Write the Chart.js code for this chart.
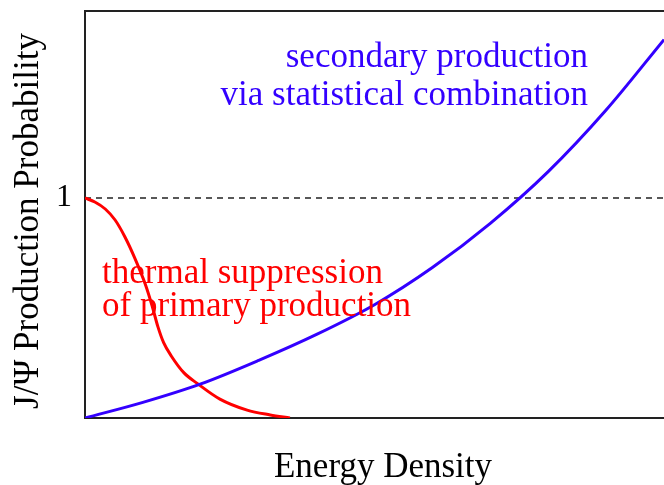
<!DOCTYPE html>
<html>
<head>
<meta charset="utf-8">
<script src="https://cdn.jsdelivr.net/npm/chart.js@4/dist/chart.umd.min.js"></script>
<style>
  html, body { margin: 0; padding: 0; background: #fff; }
  #wrap { width: 664px; height: 485px; }
</style>
</head>
<body>
<div id="wrap"><canvas id="chart"></canvas></div>
<script>
// energy density (arbitrary units, 0..10 across the visible frame)
const primaryX = [0, 0.17, 0.35, 0.52, 0.69, 0.86, 1.04, 1.16, 1.26, 1.36, 1.49, 1.71, 1.95, 2.33, 2.8, 3.2, 3.54];
const primaryY = [1.0, 0.982, 0.95, 0.9, 0.823, 0.727, 0.609, 0.509, 0.414, 0.341, 0.282, 0.205, 0.155, 0.086, 0.036, 0.014, 0];
const secondaryX = [0, 1, 2, 3, 4, 5, 6, 7, 8, 9, 10];
const secondaryY = [0, 0.071, 0.155, 0.262, 0.38, 0.515, 0.684, 0.885, 1.12, 1.4, 1.72];
const refX = [0, 10];
const refY = [1, 1];
const yTicks = [1];

const serif = '"Liberation Serif", "DejaVu Serif", serif';

const toPoints = (xs, ys) => xs.map((x, i) => ({ x: x, y: ys[i] }));

// annotation text and axis titles
const labelPlugin = {
    id: 'labels',
    afterDatasetsDraw(chart) {
        const ctx = chart.ctx;
        ctx.save();
        ctx.font = '35px ' + serif;
        ctx.textBaseline = 'alphabetic';

        ctx.fillStyle = '#3300ff';
        ctx.textAlign = 'right';
        ctx.fillText('secondary production', 588, 67);
        ctx.fillText('via statistical combination', 588, 105);

        ctx.fillStyle = '#ff0000';
        ctx.textAlign = 'left';
        ctx.fillText('thermal suppression', 102, 283);
        ctx.fillText('of primary production', 102, 316);

        // axis titles
        ctx.fillStyle = '#000';
        ctx.textAlign = 'center';
        ctx.fillText('Energy Density', 383, 477);

        ctx.translate(38, 221);
        ctx.rotate(-Math.PI / 2);
        ctx.fillText('J/\u03A8 Production Probability', 0, 0);
        ctx.restore();
    }
};

const ctx = document.getElementById('chart').getContext('2d');
new Chart(ctx, {
    type: 'line',
    data: {
        datasets: [
            {
                label: 'reference',
                data: toPoints(refX, refY),
                borderColor: '#222',
                borderWidth: 1.3,
                borderDash: [6, 5],
                pointRadius: 0,
                order: 3
            },
            {
                label: 'thermal suppression of primary production',
                data: toPoints(primaryX, primaryY),
                borderColor: '#ff0000',
                borderWidth: 3,
                pointRadius: 0,
                cubicInterpolationMode: 'monotone',
                order: 2
            },
            {
                label: 'secondary production via statistical combination',
                data: toPoints(secondaryX, secondaryY),
                borderColor: '#3300ff',
                borderWidth: 3,
                pointRadius: 0,
                cubicInterpolationMode: 'monotone',
                order: 1
            }
        ]
    },
    options: {
        responsive: true,
        maintainAspectRatio: false,
        animation: false,
        layout: { padding: 0 },
        plugins: {
            legend: { display: false },
            tooltip: { enabled: false }
        },
        scales: {
            x: {
                type: 'linear',
                min: 0,
                max: 10,
                grid: { display: false },
                border: { display: true, color: '#222', width: 2 },
                ticks: { display: false },
                afterFit: (scale) => { scale.height = 67; }
            },
            xTop: {
                type: 'linear',
                position: 'top',
                min: 0,
                max: 10,
                grid: { display: false },
                border: { display: true, color: '#222', width: 2 },
                ticks: { display: false },
                afterFit: (scale) => { scale.height = 11; }
            },
            y: {
                min: 0,
                max: 1.85,
                grid: { display: false, drawTicks: false },
                border: { display: true, color: '#222', width: 2 },
                afterBuildTicks: (scale) => { scale.ticks = yTicks.map(v => ({ value: v })); },
                ticks: {
                    color: '#000',
                    padding: 13,
                    font: { family: serif, size: 32 }
                },
                afterFit: (scale) => {
                    scale.width = 85;
                    scale.paddingTop = 0;
                    scale.paddingBottom = 0;
                }
            }
        }
    },
    plugins: [labelPlugin]
});
</script>
</body>
</html>
